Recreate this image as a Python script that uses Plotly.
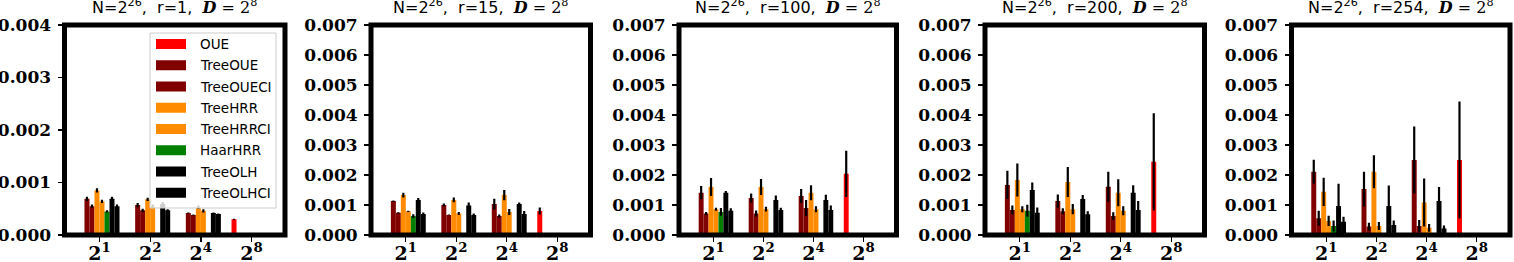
import plotly.graph_objects as go

# ---------------- data ----------------
categories = ["2<sup>1</sup>", "2<sup>2</sup>", "2<sup>4</sup>", "2<sup>8</sup>"]
series_names = ["OUE", "TreeOUE", "TreeOUECI", "TreeHRR", "TreeHRRCI", "HaarHRR", "TreeOLH", "TreeOLHCI"]
series_colors = ["#ff0000", "#800000", "#800000", "#ff8c00", "#ff8c00", "#008000", "#000000", "#000000"]
r_values = [1, 15, 100, 200, 254]
y_max = [0.004, 0.007, 0.007, 0.007, 0.007]

# r = 1
r1_vals = {
    "OUE":       [None, None, None, 0.00030],
    "TreeOUE":   [0.00069, 0.00057, 0.00042, None],
    "TreeOUECI": [0.00055, 0.00047, 0.00038, None],
    "TreeHRR":   [0.00085, 0.00068, 0.00053, None],
    "TreeHRRCI": [0.00064, 0.00055, 0.00046, None],
    "HaarHRR":   [0.00045, None, None, None],
    "TreeOLH":   [0.00069, 0.00059, 0.00042, None],
    "TreeOLHCI": [0.00055, 0.00047, 0.00040, None],
}
r1_errs = {
    "OUE":       [0, 0, 0, 0.00001],
    "TreeOUE":   [0.00004, 0.00004, 0.00001, 0],
    "TreeOUECI": [0.00003, 0.00003, 0.00001, 0],
    "TreeHRR":   [0.00004, 0.00003, 0.00003, 0],
    "TreeHRRCI": [0.00003, 0.00003, 0.00003, 0],
    "HaarHRR":   [0.00002, 0, 0, 0],
    "TreeOLH":   [0.00004, 0.00004, 0.00001, 0],
    "TreeOLHCI": [0.00003, 0.00002, 0.00001, 0],
}
# r = 15
r15_vals = {
    "OUE":       [None, None, None, 0.00080],
    "TreeOUE":   [0.00113, 0.00100, 0.00103, None],
    "TreeOUECI": [0.00074, 0.00067, 0.00063, None],
    "TreeHRR":   [0.00133, 0.00117, 0.00133, None],
    "TreeHRRCI": [0.00079, 0.00072, 0.00077, None],
    "HaarHRR":   [0.00063, None, None, None],
    "TreeOLH":   [0.00117, 0.00098, 0.00103, None],
    "TreeOLHCI": [0.00070, 0.00067, 0.00070, None],
}
r15_errs = {
    "OUE":       [0, 0, 0, 0.00012],
    "TreeOUE":   [0.00002, 0.00005, 0.00018, 0],
    "TreeOUECI": [0.00002, 0.00001, 0.00005, 0],
    "TreeHRR":   [0.00008, 0.00008, 0.00017, 0],
    "TreeHRRCI": [0.00002, 0.00005, 0.00010, 0],
    "HaarHRR":   [0.00006, 0, 0, 0],
    "TreeOLH":   [0.00006, 0.00010, 0.00005, 0],
    "TreeOLHCI": [0.00005, 0.00005, 0.00010, 0],
}
# r = 100
r100_vals = {
    "OUE":       [None, None, None, 0.00204],
    "TreeOUE":   [0.00141, 0.00123, 0.00130, None],
    "TreeOUECI": [0.00072, 0.00072, 0.00090, None],
    "TreeHRR":   [0.00160, 0.00160, 0.00141, None],
    "TreeHRRCI": [0.00086, 0.00086, 0.00086, None],
    "HaarHRR":   [0.00077, None, None, None],
    "TreeOLH":   [0.00141, 0.00117, 0.00117, None],
    "TreeOLHCI": [0.00081, 0.00083, 0.00083, None],
}
r100_errs = {
    "OUE":       [0, 0, 0, 0.00077],
    "TreeOUE":   [0.00022, 0.00015, 0.00023, 0],
    "TreeOUECI": [0.00005, 0.00010, 0.00027, 0],
    "TreeHRR":   [0.00030, 0.00027, 0.00025, 0],
    "TreeHRRCI": [0.00005, 0.00008, 0.00010, 0],
    "HaarHRR":   [0.00013, 0, 0, 0],
    "TreeOLH":   [0.00006, 0.00015, 0.00017, 0],
    "TreeOLHCI": [0.00008, 0.00008, 0.00015, 0],
}
# r = 200
r200_vals = {
    "OUE":       [None, None, None, 0.00244],
    "TreeOUE":   [0.00167, 0.00113, 0.00161, None],
    "TreeOUECI": [0.00083, 0.00079, 0.00063, None],
    "TreeHRR":   [0.00183, 0.00177, 0.00141, None],
    "TreeHRRCI": [0.00086, 0.00086, 0.00081, None],
    "HaarHRR":   [0.00081, None, None, None],
    "TreeOLH":   [0.00150, 0.00120, 0.00141, None],
    "TreeOLHCI": [0.00074, 0.00069, 0.00083, None],
}
r200_errs = {
    "OUE":       [0, 0, 0, 0.00162],
    "TreeOUE":   [0.00047, 0.00022, 0.00050, 0],
    "TreeOUECI": [0.00015, 0.00010, 0.00013, 0],
    "TreeHRR":   [0.00055, 0.00050, 0.00045, 0],
    "TreeHRRCI": [0.00010, 0.00017, 0.00015, 0],
    "HaarHRR":   [0.00020, 0, 0, 0],
    "TreeOLH":   [0.00025, 0.00013, 0.00025, 0],
    "TreeOLHCI": [0.00018, 0.00010, 0.00030, 0],
}
# r = 254
r254_vals = {
    "OUE":       [None, None, None, 0.00250],
    "TreeOUE":   [0.00211, 0.00153, 0.00250, None],
    "TreeOUECI": [0.00056, 0.00028, 0.00030, None],
    "TreeHRR":   [0.00144, 0.00211, 0.00108, None],
    "TreeHRRCI": [0.00047, 0.00030, 0.00024, None],
    "HaarHRR":   [0.00030, None, None, None],
    "TreeOLH":   [0.00097, 0.00097, 0.00113, None],
    "TreeOLHCI": [0.00044, 0.00033, 0.00022, None],
}
r254_errs = {
    "OUE":       [0, 0, 0, 0.00195],
    "TreeOUE":   [0.00040, 0.00058, 0.00112, 0],
    "TreeOUECI": [0.00025, 0.00013, 0.00020, 0],
    "TreeHRR":   [0.00047, 0.00055, 0.00080, 0],
    "TreeHRRCI": [0.00017, 0.00013, 0.00013, 0],
    "HaarHRR":   [0.00018, 0, 0, 0],
    "TreeOLH":   [0.00074, 0.00068, 0.00047, 0],
    "TreeOLHCI": [0.00017, 0.00015, 0.00010, 0],
}

panel_vals = [r1_vals, r15_vals, r100_vals, r200_vals, r254_vals]
panel_errs = [r1_errs, r15_errs, r100_errs, r200_errs, r254_errs]

# ---------------- layout helpers ----------------
W, H = 1514, 262
panel_px = [(64.5, 285), (371, 590.5), (679, 896.5), (985, 1204.5), (1291.5, 1510)]
y_top_px, y_bot_px = 25, 235


def px_x(p):
    return p / W


def px_y(p):
    return 1 - p / H


fig = go.Figure()
x_pos = list(range(len(categories)))

for i, (vals, errs) in enumerate(zip(panel_vals, panel_errs)):
    sfx = "" if i == 0 else str(i + 1)
    for name, col in zip(series_names, series_colors):
        fig.add_trace(go.Bar(
            x=x_pos, y=vals[name], name=name,
            marker=dict(color=col, line=dict(width=0)),
            error_y=dict(type="data", array=errs[name], color="black",
                         thickness=2.2, width=0, visible=True),
            xaxis="x" + sfx, yaxis="y" + sfx, showlegend=False,
            hoverinfo="skip",
        ))

layout = dict(
    width=W, height=H, margin=dict(l=0, r=0, t=0, b=0, autoexpand=False),
    paper_bgcolor="white", plot_bgcolor="white",
    barmode="group", bargap=0.21, bargroupgap=0,
    showlegend=False,
)

shapes = []
annotations = []
for i in range(5):
    sfx = "" if i == 0 else str(i + 1)
    x0, x1 = panel_px[i]
    layout["xaxis" + sfx] = dict(
        domain=[px_x(x0), px_x(x1)], anchor="y" + sfx, automargin=False,
        range=[-0.69, 3.66], tickvals=x_pos,
        ticktext=["<b>" + c + "</b>" for c in categories],
        ticks="outside", ticklen=1, tickwidth=1.3, tickcolor="black",
        minor=dict(tickvals=x_pos, ticks="outside", ticklen=6, tickwidth=1.3,
                   tickcolor="black", showgrid=False),
        showgrid=False, zeroline=False, showline=False,
        tickfont=dict(family="DejaVu Serif", size=19, color="black"),
    )
    layout["yaxis" + sfx] = dict(
        domain=[px_y(y_bot_px), px_y(y_top_px)], anchor="x" + sfx, automargin=False,
        range=[0, y_max[i]], dtick=0.001, tickformat=".3f",
        ticks="outside", ticklen=6, tickwidth=1.3, tickcolor="black",
        ticklabelstandoff=3,
        showgrid=False, zeroline=False, showline=False,
        tickfont=dict(family="DejaVu Serif", size=17, color="black", weight="bold"),
    )
    # thick frame
    shapes.append(dict(type="rect", xref="x" + sfx + " domain", yref="y" + sfx + " domain",
                       x0=0, x1=1, y0=0, y1=1, line=dict(color="black", width=5),
                       layer="above"))
    # title
    annotations.append(dict(
        x=px_x((x0 + x1) / 2), y=px_y(7), xref="paper", yref="paper",
        xanchor="center", yanchor="middle", showarrow=False,
        text=("N=2<sup>26</sup>,  r=%d,  <span style=\"font-family:DejaVu Serif\"><b><i>D</i></b> = 2<sup>8</sup></span>"
              % r_values[i]),
        font=dict(family="DejaVu Sans", size=16, color="black"),
    ))

# legend (inside first panel, upper right)
leg_x0, leg_x1, leg_y0, leg_y1 = 150, 276, 33, 208
shapes.append(dict(type="rect", xref="paper", yref="paper",
                   x0=px_x(leg_x0), x1=px_x(leg_x1), y0=px_y(leg_y1), y1=px_y(leg_y0),
                   fillcolor="rgba(255,255,255,0.8)", line=dict(color="#cccccc", width=1),
                   layer="above"))
for k, (name, col) in enumerate(zip(series_names, series_colors)):
    yc = 44 + 21.25 * k
    shapes.append(dict(type="rect", xref="paper", yref="paper",
                       x0=px_x(156), x1=px_x(186), y0=px_y(yc + 5), y1=px_y(yc - 5),
                       fillcolor=col, line=dict(width=0), layer="above"))
    annotations.append(dict(
        x=px_x(198), y=px_y(yc), xref="paper", yref="paper",
        xanchor="left", yanchor="middle", showarrow=False, text=name,
        font=dict(family="DejaVu Sans", size=13.5, color="black"),
    ))

layout["shapes"] = shapes
layout["annotations"] = annotations
fig.update_layout(**layout)

fig.write_html("out.html", config={"displayModeBar": False, "staticPlot": True},
               post_script="document.body.style.margin='0';document.body.style.overflow='hidden';")
